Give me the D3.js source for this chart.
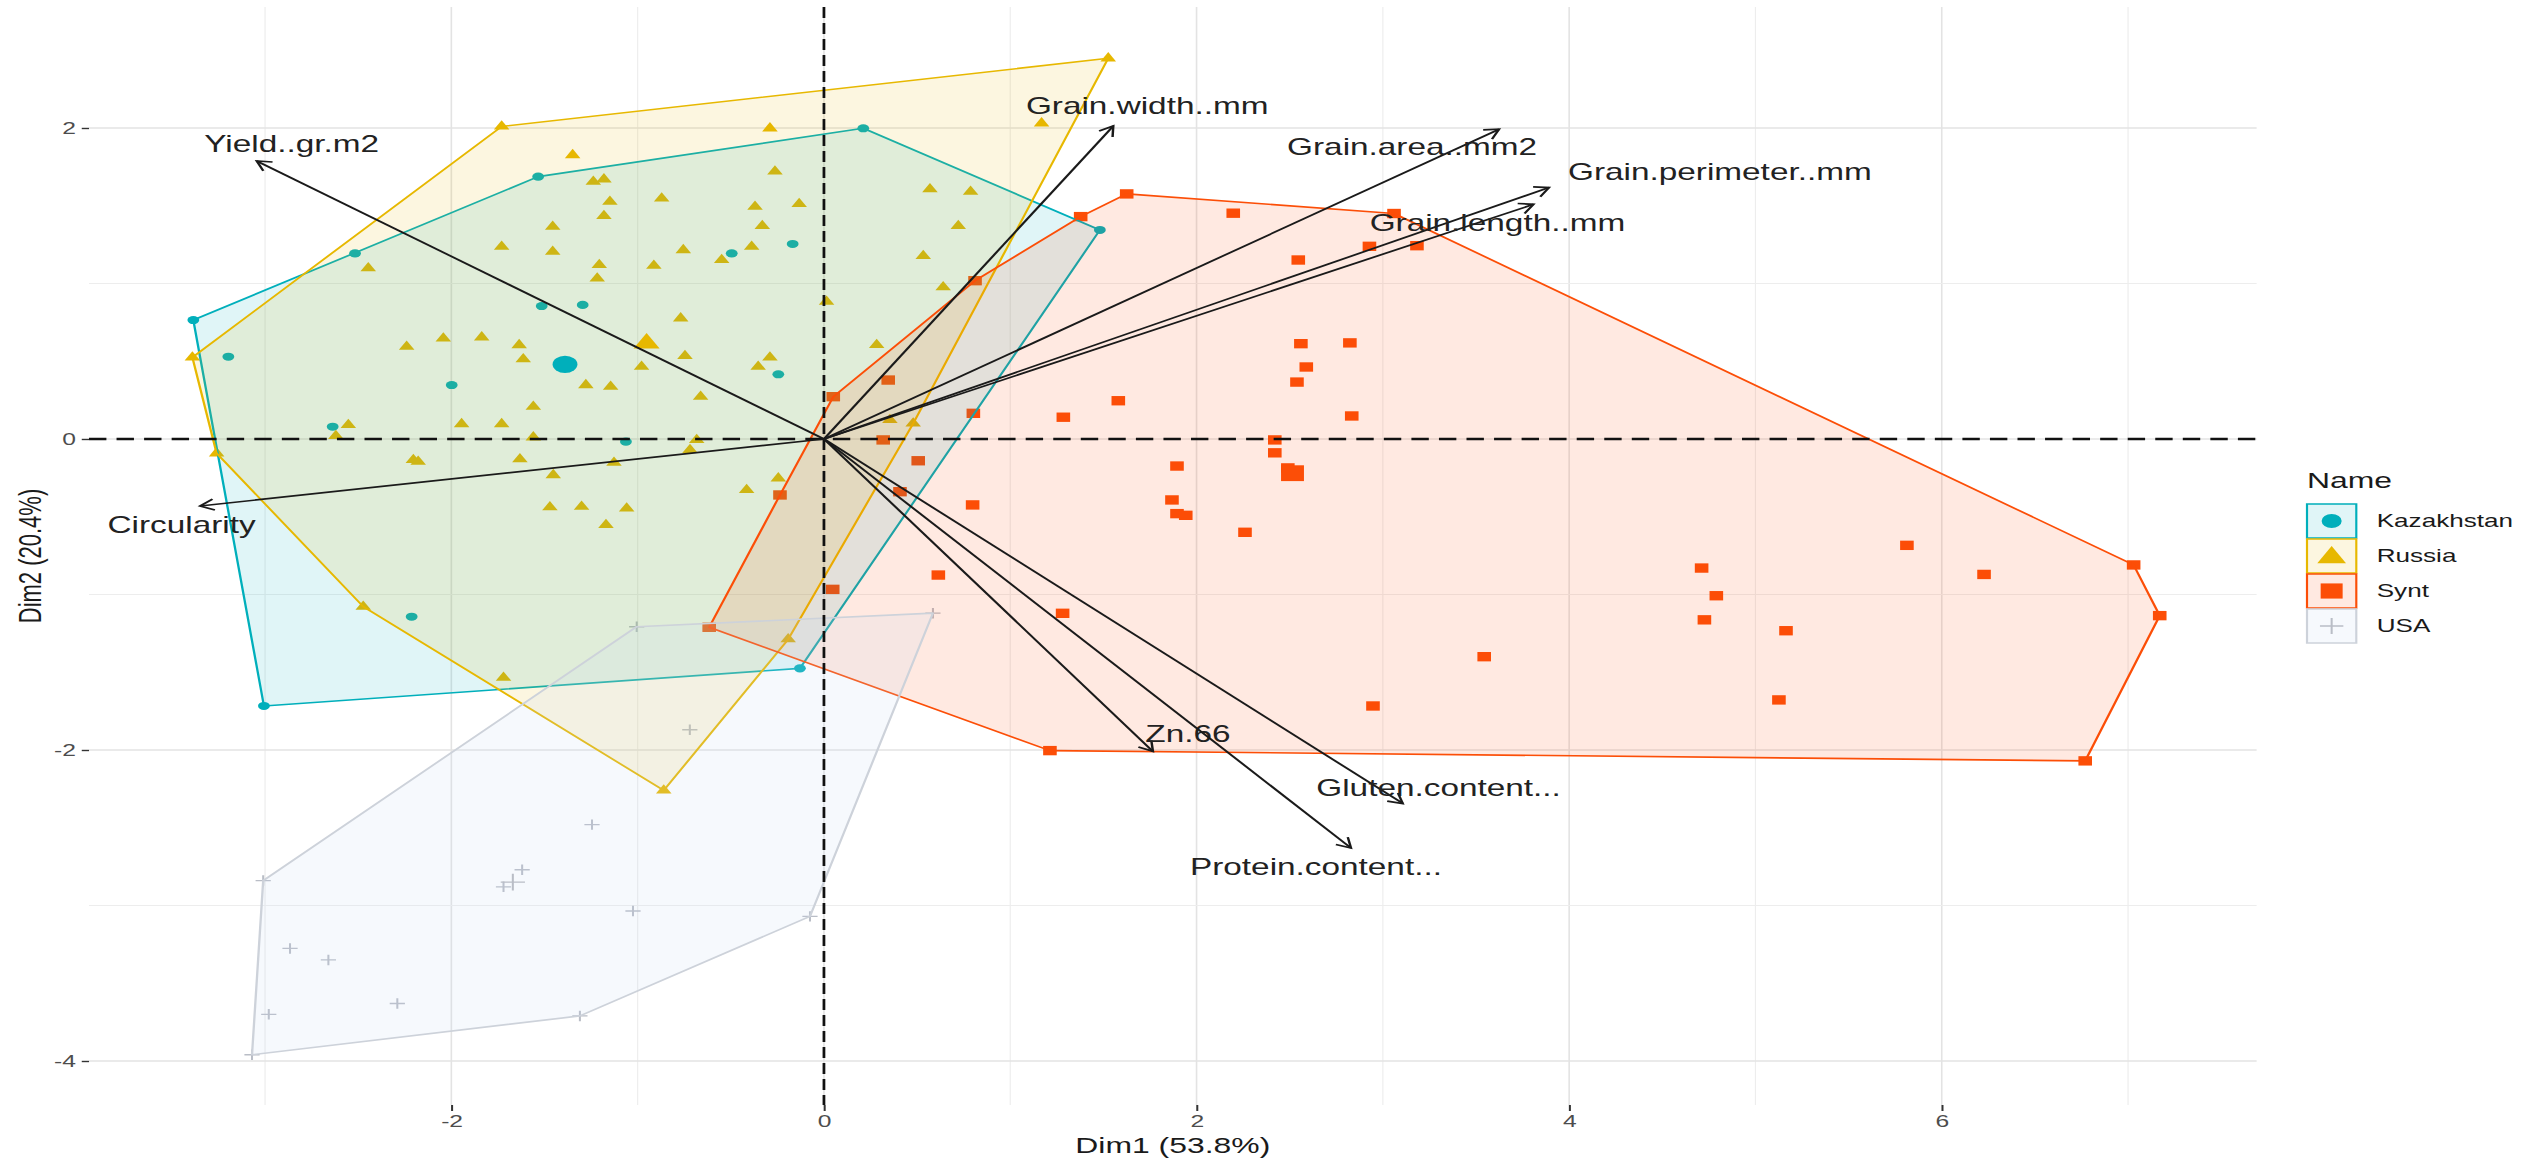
<!DOCTYPE html>
<html><head><meta charset="utf-8">
<script src="https://cdn.jsdelivr.net/npm/d3@7"></script>
<style>html,body{margin:0;padding:0;background:#fff;overflow:hidden}</style>
</head><body><svg id="chart"></svg>
<script>
// ---------------- data ----------------
const groups = ["Kazakhstan", "Russia", "Synt", "USA"];

const kazX = [-3.385,-2.517,-1.534,0.211,1.481,-0.129,-3.006,-3.197,-2.637,-1.998,-1.515,-1.295,-1.063,-0.495,-0.168,-0.245,-2.213];
const kazY = [0.765,1.194,1.687,1.998,1.344,-1.475,-1.717,0.529,0.079,0.347,0.855,0.862,-0.017,1.194,1.254,0.416,-1.143];
const kazMean = [-1.39, 0.48];

const rusX = [-3.39,-1.73,1.526,0.479,-0.192,-0.86,-1.72,-2.473,-3.26,
  -2.446,-1.73,-2.24,-2.043,-1.837,-0.29,-1.349,-0.263,-1.238,-1.181,-1.149,-0.871,-0.37,-0.133,-1.181,-1.456,-0.331,-1.456,-0.755,-0.388,-0.549,-1.206,-1.217,-0.913,0.014,-0.769,-0.979,-0.746,-0.29,-0.353,-1.636,-1.614,-1.278,-1.145,-0.662,-1.56,-2.553,-2.62,-1.945,-1.73,-2.204,-2.178,-1.56,-0.683,-0.719,-1.632,-1.453,-1.127,-1.471,-1.301,-1.059,-1.17,-0.415,-0.245,1.168,0.569,0.787,0.721,0.533,0.64,0.283,0.354];
const rusY = [0.525,2.01,2.448,0.10,-1.288,-2.26,-1.535,-1.078,-0.092,
  1.098,1.237,0.594,0.647,0.654,1.998,1.826,1.72,1.655,1.67,1.526,1.547,1.494,1.511,1.434,1.365,1.37,1.205,1.215,1.237,1.151,1.119,1.033,1.115,0.883,0.776,0.465,0.534,0.525,0.465,0.604,0.513,0.347,0.336,0.272,0.208,0.09,0.02,0.096,0.096,-0.135,-0.146,0.011,-0.006,-0.07,-0.13,-0.232,-0.152,-0.439,-0.435,-0.446,-0.553,-0.328,-0.253,2.03,1.606,1.59,1.37,1.177,0.976,0.605,0.122];
const rusMean = [-0.952, 0.615];

const syntX = [1.625,3.06,7.03,7.17,6.77,1.213,-0.616,-0.236,0.05,0.811,1.378,
  2.197,2.546,2.928,3.183,2.56,2.823,2.589,2.539,1.58,0.345,1.285,2.833,0.802,0.318,0.506,2.42,2.42,1.895,2.49,0.408,1.868,0.798,1.895,1.942,2.26,0.614,0.047,1.281,3.544,2.947,5.813,6.227,4.711,4.79,4.726,5.164,5.126];
const syntY = [1.576,1.45,-0.81,-1.136,-2.07,-2.004,-1.211,-0.36,0.272,1.018,1.43,
  1.452,1.151,1.239,1.243,0.613,0.618,0.463,0.366,0.246,0.379,0.14,0.148,0.165,-0.006,-0.14,-0.006,-0.089,-0.174,-0.186,-0.339,-0.392,-0.424,-0.48,-0.491,-0.60,-0.875,-0.967,-1.121,-1.40,-1.717,-0.684,-0.871,-0.83,-1.008,-1.163,-1.233,-1.678];
const syntMean = [2.515, -0.22];

const usaX = [-1.005,0.585,-0.075,-1.31,-3.07,-3.01,-0.72,-1.245,-1.62,-1.72,-1.025,-2.866,-2.66,-2.29,-2.98];
const usaY = [-1.207,-1.12,-3.07,-3.71,-3.96,-2.84,-1.87,-2.48,-2.77,-2.88,-3.035,-3.276,-3.35,-3.63,-3.70];
const usaMean = [-1.67, -2.85];

const varNames = ["Yield..gr.m2","Circularity","Grain.width..mm","Grain.area..mm2","Grain.perimeter..mm","Grain.length..mm","Zn.66","Gluten.content...","Protein.content..."];
const varX = [-3.045,-3.349,1.553,3.624,3.892,3.809,1.766,3.107,2.829];
const varY = [1.788,-0.431,2.013,1.992,1.617,1.509,-2.009,-2.344,-2.630];
const labelX = [-2.857,-3.448,1.735,3.157,4.809,3.615,1.954,3.299,2.641];
const labelY = [1.900,-0.553,2.139,1.877,1.717,1.388,-1.898,-2.244,-2.749];

const xTicks = [-2, 0, 2, 4, 6];
const yTicks = [-4, -2, 0, 2];
const xTitle = "Dim1 (53.8%)";
const yTitle = "Dim2 (20.4%)";
const legendTitle = "Name";

// ---------------- layout / style ----------------
const W = 2526, H = 1159, S = 1.45, VW = W / S;
const FONT = "'Liberation Sans', Arial, Helvetica, sans-serif";
const colors = {Kazakhstan: "#00AFBB", Russia: "#E7B800", Synt: "#FC4E07", USA: "#CDD2DA"};
const fills  = {Kazakhstan: "#00AFBB", Russia: "#E7B800", Synt: "#FC4E07", USA: "#C6DAF2"};
const fillOpacity = {Kazakhstan: 0.12, Russia: 0.12, Synt: 0.12, USA: 0.16};

const svg = d3.select("#chart")
  .attr("width", W).attr("height", H)
  .attr("viewBox", `0 0 ${VW} ${H}`)
  .attr("preserveAspectRatio", "none")
  .style("display", "block");

const x = d3.scaleLinear().domain([-3.945, 7.69]).range([89 / S, 2256.6 / S]);
const y = d3.scaleLinear().domain([-4.283, 2.778]).range([1105, 7]);
const [px0, px1] = x.range();
const [py1, py0] = y.range();

// grid
const grid = svg.append("g");
d3.range(-3, 8).forEach(v => {
  grid.append("line").attr("x1", x(v)).attr("x2", x(v)).attr("y1", py0).attr("y2", py1)
    .attr("stroke", v % 2 === 0 ? "#E3E3E3" : "#EDEDED").attr("stroke-width", v % 2 === 0 ? 1.1 : 0.8);
});
d3.range(-4, 3).forEach(v => {
  grid.append("line").attr("y1", y(v)).attr("y2", y(v)).attr("x1", px0).attr("x2", px1)
    .attr("stroke", v % 2 === 0 ? "#E3E3E3" : "#EDEDED").attr("stroke-width", v % 2 === 0 ? 1.6 : 1.1);
});

// axes
const xAxis = svg.append("g").attr("transform", `translate(0,${py1})`)
  .call(d3.axisBottom(x).tickValues(xTicks).tickFormat(d => String(d)).tickSize(6).tickPadding(4));
const yAxis = svg.append("g").attr("transform", `translate(${px0},0)`)
  .call(d3.axisLeft(y).tickValues(yTicks).tickFormat(d => String(d)).tickSize(5).tickPadding(4));
[xAxis, yAxis].forEach(a => {
  a.select(".domain").remove();
  a.selectAll("line").attr("stroke", "#333").attr("stroke-width", 1.4);
  a.selectAll("text").attr("fill", "#4D4D4D").style("font-family", FONT).style("font-size", "17px");
});

svg.append("text").attr("x", (px0 + px1) / 2).attr("y", 1153)
  .attr("text-anchor", "middle").style("font-family", FONT).style("font-size", "22px").attr("fill", "#1a1a1a")
  .text(xTitle);
svg.append("text").attr("transform", `translate(${31 / S + 7},${(py0 + py1) / 2}) rotate(-90)`)
  .attr("text-anchor", "middle").style("font-family", FONT).style("font-size", "22px").attr("fill", "#1a1a1a")
  .text(yTitle);

// symbols
const shapes = {
  Kazakhstan: (size) => d3.symbol(d3.symbolCircle, size)(),
  Russia: (size) => d3.symbol(d3.symbolTriangle, size)(),
  Synt: (size) => d3.symbol(d3.symbolSquare, size)(),
  USA: (size) => { const r = Math.sqrt(size) / 2; return `M${-r},0H${r}M0,${-r}V${r}`; }
};
const smallSize = {Kazakhstan: 52, Russia: 50, Synt: 88, USA: 110};
const bigSize = {Kazakhstan: 230, Russia: 140, Synt: 250, USA: 280};

const groupData = {
  Kazakhstan: {xs: kazX, ys: kazY, mean: kazMean},
  Russia: {xs: rusX, ys: rusY, mean: rusMean},
  Synt: {xs: syntX, ys: syntY, mean: syntMean},
  USA: {xs: usaX, ys: usaY, mean: usaMean}
};

function drawSymbol(g, name, cx, cy, size) {
  const p = g.append("path").attr("d", shapes[name](size)).attr("transform", `translate(${cx},${cy})`);
  if (name === "USA") p.attr("fill", "none").attr("stroke", "#B9BDC6").attr("stroke-width", 1.4);
  else p.attr("fill", colors[name]);
  return p;
}

// points (under hulls)
const ptsG = svg.append("g");
groups.forEach(gname => {
  const d = groupData[gname];
  d.xs.forEach((vx, i) => drawSymbol(ptsG, gname, x(vx), y(d.ys[i]), smallSize[gname]));
});

// convex hulls
const hullG = svg.append("g");
groups.forEach(gname => {
  const d = groupData[gname];
  const hull = d3.polygonHull(d.xs.map((vx, i) => [x(vx), y(d.ys[i])]));
  hullG.append("path").attr("d", "M" + hull.join("L") + "Z")
    .attr("fill", fills[gname]).attr("fill-opacity", fillOpacity[gname])
    .attr("stroke", colors[gname]).attr("stroke-width", 1.6).attr("stroke-linejoin", "round");
});

// mean points
groups.forEach(gname => {
  const m = groupData[gname].mean;
  drawSymbol(svg, gname, x(m[0]), y(m[1]), bigSize[gname]);
});

// reference dashed lines
svg.append("line").attr("x1", px0).attr("x2", px1).attr("y1", y(0)).attr("y2", y(0))
  .attr("stroke", "#111").attr("stroke-width", 2.4).attr("stroke-dasharray", "12,7");
svg.append("line").attr("x1", x(0)).attr("x2", x(0)).attr("y1", py0).attr("y2", py1)
  .attr("stroke", "#111").attr("stroke-width", 1.9).attr("stroke-dasharray", "11,5");

// variable arrows
const arrG = svg.append("g");
varNames.forEach((name, i) => {
  const x0 = x(0), y0 = y(0), x1 = x(varX[i]), y1 = y(varY[i]);
  arrG.append("line").attr("x1", x0).attr("y1", y0).attr("x2", x1).attr("y2", y1)
    .attr("stroke", "#1a1a1a").attr("stroke-width", 1.7);
  const ang = Math.atan2(y1 - y0, x1 - x0), L = 11, a = Math.PI / 6;
  const p1 = [x1 - L * Math.cos(ang - a), y1 - L * Math.sin(ang - a)];
  const p2 = [x1 - L * Math.cos(ang + a), y1 - L * Math.sin(ang + a)];
  arrG.append("path").attr("d", `M${p1}L${x1},${y1}L${p2}`)
    .attr("fill", "none").attr("stroke", "#1a1a1a").attr("stroke-width", 1.7);
  arrG.append("text").attr("x", x(labelX[i])).attr("y", y(labelY[i])).attr("dy", "0.35em")
    .attr("text-anchor", "middle").style("font-family", FONT).style("font-size", "23px")
    .attr("fill", "#222").text(name);
});

// legend
const lg = svg.append("g");
const kx = 2307 / S, ky0 = 504, ks = 34, kstep = 35;
lg.append("text").attr("x", kx).attr("y", 488).style("font-family", FONT).style("font-size", "22px")
  .attr("fill", "#1a1a1a").text(legendTitle);
groups.forEach((gname, i) => {
  const ty = ky0 + i * kstep;
  lg.append("rect").attr("x", kx).attr("y", ty).attr("width", ks).attr("height", ks)
    .attr("fill", fills[gname]).attr("fill-opacity", fillOpacity[gname])
    .attr("stroke", colors[gname]).attr("stroke-width", 1.5);
  const legSize = {Kazakhstan: 150, Russia: 170, Synt: 230, USA: 260}[gname];
  drawSymbol(lg, gname, kx + ks / 2, ty + ks / 2 + (gname === "Russia" ? 1.5 : 0), legSize);
  lg.append("text").attr("x", 2376.7 / S).attr("y", ty + ks / 2).attr("dy", "0.35em")
    .style("font-family", FONT).style("font-size", "18px").attr("fill", "#1a1a1a").text(gname);
});
</script>
</body></html>
